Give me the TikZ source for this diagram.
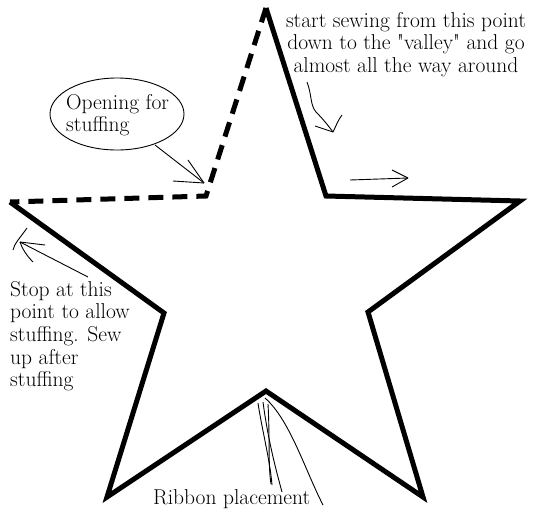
\documentclass[tikz,border=0pt]{standalone}
\usepackage{fontspec}
\usetikzlibrary{shapes.geometric}
\begin{document}
\begin{tikzpicture}[x=1pt,y=-1pt,
  starline/.style={line width=5pt,line join=miter,line cap=butt},
  seamdash/.style={starline,dash pattern=on 15pt off 9pt},
  pen/.style={line width=0.9pt},
  lbl/.style={font=\fontsize{21.5}{22.6}\selectfont,inner sep=0pt,anchor=north west}]
\useasboundingbox (0,0) rectangle (537,512);
% star vertices
\coordinate (top) at (266,8);
\coordinate (rv) at (326,196);
\coordinate (rp) at (520,201);
\coordinate (rl) at (368,312);
\coordinate (br) at (423,497);
\coordinate (bv) at (266,391);
\coordinate (bl) at (107,497);
\coordinate (ll) at (164,313);
\coordinate (lp) at (10,202);
\coordinate (lv) at (206,196);
% solid seam
\draw[starline] (top) -- (rv) -- (rp) -- (rl) -- (br) -- (bv) -- (bl) -- (ll) -- (lp);
% opening (dashed)
\draw[seamdash] (top) -- (lv) -- (lp);
% texts
\node[lbl,align=center,anchor=north] (start) at (406,12) {start sewing from this point\\down to the \textquotedbl valley\textquotedbl{} and go\\almost all the way around};
\node[draw,ellipse,line width=0.9pt,minimum width=134pt,minimum height=72pt,inner sep=0pt] (open) at (117,114) {};
\node[lbl,align=left] (opentext) at (66,94) {Opening for\\stuffing};
\node[lbl,align=left] (stop) at (10,281) {Stop at this\\point to allow\\stuffing. Sew\\up after\\stuffing};
\node[lbl,anchor=north west] (ribbon) at (153,489) {Ribbon placement};
% hand-drawn pointers
\coordinate (optip) at (204,183);
\coordinate (opfoot) at (155,145);
\draw[pen] (opfoot) -- (optip);
\draw[pen] (188,160) -- (optip);
\draw[pen] (173,181) -- (optip);
\coordinate (sttip) at (20,242);
\draw[pen] (88,277) -- (sttip);
\draw[pen] (27,228) .. controls (20,238) and (14,244) .. (13,250);
\draw[pen] (33,262) .. controls (26,255) and (22,248) .. (sttip);
\draw[pen] (45,245) -- (sttip);
\coordinate (swtip) at (333,132);
\draw[pen] (307,82) .. controls (312,95) and (310,105) .. (316,112) .. controls (322,118) and (327,124) .. (swtip);
\draw[pen] (315,126) -- (swtip);
\draw[pen] (342,115) .. controls (338,120) and (336,126) .. (swtip);
\coordinate (rttip) at (408,178);
\draw[pen] (350,180) -- (rttip);
\draw[pen] (392,170) -- (rttip);
\draw[pen] (392,187) -- (rttip);
\draw[pen] (258,403) .. controls (262,430) and (270,460) .. (272,485);
\draw[pen] (263,402) .. controls (268,440) and (276,470) .. (282,492);
\draw[pen] (265,398) .. controls (290,420) and (305,470) .. (323,505);
\draw[pen] (268,404) .. controls (270,440) and (268,465) .. (271,484);
\end{tikzpicture}
\end{document}
